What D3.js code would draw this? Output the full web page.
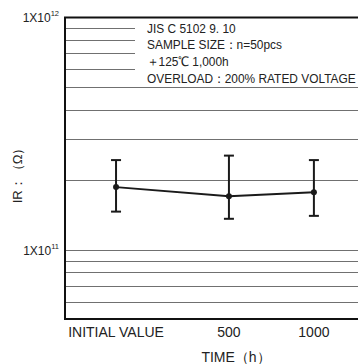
<!DOCTYPE html>
<html>
<head>
<meta charset="utf-8">
<script src="https://cdn.jsdelivr.net/npm/d3@7"></script>
<style>
  body { margin: 0; background: #fff; }
  svg { display: block; font-family: "Liberation Sans", Arial, sans-serif; }
</style>
</head>
<body>
<div id="chart"></div>
<script>
(function() {
    // data
    const times = [0, 500, 1000];
    const timeLabels = ['INITIAL VALUE', '500', '1000'];
    const irMean = [1.86e11, 1.70e11, 1.77e11];
    const irMax = [2.43e11, 2.54e11, 2.43e11];
    const irMin = [1.46e11, 1.36e11, 1.40e11];
    const legendLines = ['JIS C 5102 9. 10', 'SAMPLE SIZE：n=50pcs', '＋125℃ 1,000h', 'OVERLOAD：200% RATED VOLTAGE'];

    const margin = {top: 17, right: 0, bottom: 44, left: 64},
          width = 358 - margin.left - margin.right,
          height = 364 - margin.top - margin.bottom;

    const svg = d3.select('#chart').append('svg')
      .attr('width', 358)
      .attr('height', 364);

    const chart = svg.append('g')
      .attr('transform', `translate(${margin.left},${margin.top})`);

    // x positions are not evenly spaced in the original
    const x = d3.scaleLinear()
      .domain(times)
      .range([0.177, 0.561, 0.85].map(f => f * width));

    const y = d3.scaleLog()
      .domain([5e10, 1e12])
      .range([height, 0]);

    // minor grid lines
    const gridVals = y.ticks().filter(v => v > 5e10 && v < 1e12);
    chart.selectAll('.grid')
      .data(gridVals)
      .enter()
      .append('line')
        .attr('class', 'grid')
        .attr('x1', 0)
        .attr('x2', width)
        .attr('y1', d => Math.round(y(d)) + 0.5)
        .attr('y2', d => Math.round(y(d)) + 0.5)
        .attr('stroke', '#707070')
        .attr('stroke-width', 1);

    // legend box covers the upper grid lines
    chart.append('rect')
      .attr('x', 71)
      .attr('y', 1)
      .attr('width', width - 71)
      .attr('height', Math.round(y(5e11)) - 2)
      .attr('fill', '#fff');

    const legend = chart.append('g')
      .attr('transform', 'translate(83,15.5) scale(0.93,1)');
    legend.selectAll('text')
      .data(legendLines)
      .enter()
      .append('text')
        .attr('y', (d, i) => i * 17)
        .attr('font-size', 12.8)
        .attr('fill', '#222')
        .text(d => d);

    // frame: top, left, bottom
    chart.append('path')
      .attr('d', `M${width},0.5H1V${height - 1}H${width}`)
      .attr('fill', 'none')
      .attr('stroke', '#111')
      .attr('stroke-width', 2);

    // y tick labels 1X10^n
    [1e11, 1e12].forEach(v => {
      const t = chart.append('text')
        .attr('x', -5)
        .attr('y', y(v) + 5)
        .attr('text-anchor', 'end')
        .attr('font-size', 12)
        .attr('fill', '#222');
      t.append('tspan').text('1X10');
      t.append('tspan')
        .attr('font-size', 7.5)
        .attr('dy', -6)
        .text(Math.round(Math.log10(v)));
    });

    // x tick labels
    chart.selectAll('.xlab')
      .data(times)
      .enter()
      .append('text')
        .attr('class', 'xlab')
        .attr('x', d => x(d))
        .attr('y', height + 17)
        .attr('text-anchor', 'middle')
        .attr('font-size', 14)
        .attr('fill', '#222')
        .text((d, i) => timeLabels[i]);

    chart.append('text')
      .attr('x', 172)
      .attr('y', height + 42)
      .attr('text-anchor', 'middle')
      .attr('font-size', 14)
      .attr('fill', '#222')
      .text('TIME（h）');

    svg.append('text')
      .attr('transform', `translate(22,${margin.top + height / 2 + 4}) rotate(-90)`)
      .attr('text-anchor', 'middle')
      .attr('font-size', 13)
      .attr('fill', '#222')
      .text('IR：（Ω）');

    // error bars
    const bars = chart.selectAll('.err')
      .data(times)
      .enter()
      .append('g')
        .attr('class', 'err')
        .attr('stroke', '#1a1a1a')
        .attr('stroke-width', 2);
    bars.append('line')
      .attr('x1', d => x(d)).attr('x2', d => x(d))
      .attr('y1', (d, i) => y(irMax[i]))
      .attr('y2', (d, i) => y(irMin[i]));
    bars.append('line')
      .attr('x1', d => x(d) - 5).attr('x2', d => x(d) + 5)
      .attr('y1', (d, i) => y(irMax[i]))
      .attr('y2', (d, i) => y(irMax[i]));
    bars.append('line')
      .attr('x1', d => x(d) - 5).attr('x2', d => x(d) + 5)
      .attr('y1', (d, i) => y(irMin[i]))
      .attr('y2', (d, i) => y(irMin[i]));

    // mean line
    const line = d3.line()
      .x(d => x(d))
      .y((d, i) => y(irMean[i]));
    chart.append('path')
      .datum(times)
      .attr('d', line)
      .attr('fill', 'none')
      .attr('stroke', '#1a1a1a')
      .attr('stroke-width', 2);

    chart.selectAll('.pt')
      .data(times)
      .enter()
      .append('circle')
        .attr('class', 'pt')
        .attr('cx', d => x(d))
        .attr('cy', (d, i) => y(irMean[i]))
        .attr('r', 3)
        .attr('fill', '#1a1a1a');
})();
</script>
</body>
</html>
